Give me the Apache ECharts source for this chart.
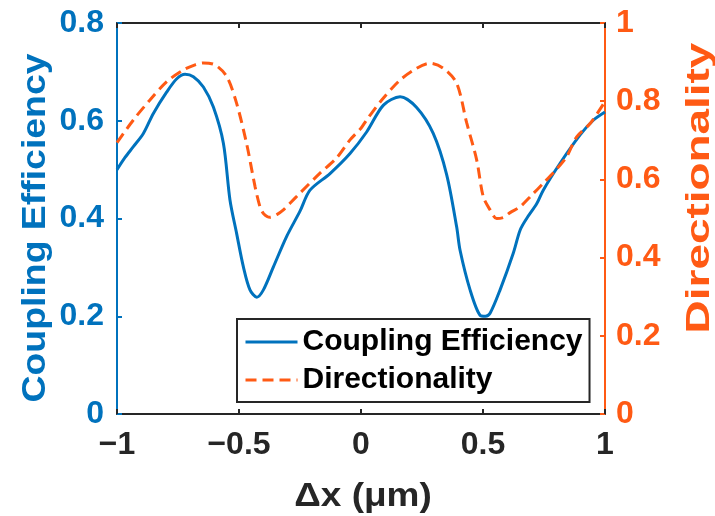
<!DOCTYPE html>
<html>
<head>
<meta charset="utf-8">
<script src="https://cdn.jsdelivr.net/npm/echarts@6/dist/echarts.min.js"></script>
<style>
  html, body { margin: 0; padding: 0; background: #fff; }
  #chart { width: 715px; height: 516px; }
</style>
</head>
<body>
<div id="chart"></div>
<script>
// Coupling efficiency vs. lateral offset
const ceX = [-1, -0.967, -0.933, -0.892, -0.851, -0.796, -0.755, -0.721, -0.687, -0.646,
  -0.605, -0.564, -0.537, -0.510, -0.482, -0.455, -0.427, -0.400, -0.359, -0.305,
  -0.250, -0.209, -0.127, -0.045, 0.023, 0.092, 0.160, 0.228, 0.296, 0.351,
  0.392, 0.406, 0.447, 0.488, 0.510, 0.529, 0.570, 0.624, 0.652, 0.679,
  0.720, 0.747, 0.816, 0.898, 0.952, 1.0];
const ceY = [0.500, 0.525, 0.547, 0.574, 0.615, 0.659, 0.686, 0.695, 0.690, 0.669,
  0.628, 0.554, 0.438, 0.370, 0.301, 0.254, 0.239, 0.254, 0.301, 0.363,
  0.415, 0.458, 0.492, 0.533, 0.577, 0.632, 0.649, 0.627, 0.574, 0.490,
  0.383, 0.335, 0.254, 0.202, 0.200, 0.206, 0.254, 0.329, 0.376, 0.400,
  0.430, 0.458, 0.513, 0.571, 0.601, 0.618];

// Directionality vs. lateral offset
const dirX = [-1, -0.933, -0.865, -0.796, -0.728, -0.680, -0.646, -0.598, -0.550, -0.510,
  -0.469, -0.434, -0.414, -0.400, -0.373, -0.345, -0.318, -0.291, -0.250, -0.168,
  -0.100, -0.045, 0, 0.023, 0.085, 0.160, 0.228, 0.283, 0.338, 0.392,
  0.433, 0.474, 0.501, 0.529, 0.556, 0.585, 0.611, 0.652, 0.700, 0.747,
  0.800, 0.843, 0.884, 0.939, 1.0];
const dirY = [0.694, 0.752, 0.803, 0.850, 0.880, 0.893, 0.898, 0.893, 0.863, 0.795,
  0.692, 0.581, 0.530, 0.513, 0.503, 0.510, 0.522, 0.539, 0.565, 0.616,
  0.655, 0.701, 0.731, 0.752, 0.803, 0.854, 0.884, 0.897, 0.884, 0.846,
  0.745, 0.650, 0.556, 0.522, 0.500, 0.503, 0.515, 0.530, 0.560, 0.590,
  0.625, 0.658, 0.709, 0.743, 0.799];

const xTicks = [-1, -0.5, 0, 0.5, 1];
const ceTicks = [0, 0.2, 0.4, 0.6, 0.8];
const dirTicks = [0, 0.2, 0.4, 0.6, 0.8, 1];

const seriesNames = ['Coupling Efficiency', 'Directionality'];
const xTitle = 'Δx (μm)';

const BLUE = '#0072BD';
const ORANGE = '#FF5A14';
const INK = '#262626';
const FONT = '"Liberation Sans", Arial, Helvetica, sans-serif';

const GRID = { left: 117, right: 110, top: 23, bottom: 102 };

const fmtX = v => (v < 0 ? '\u2212' + Math.abs(v) : String(v));

const chart = echarts.init(document.getElementById('chart'), null, { renderer: 'canvas' });

chart.setOption({
  animation: false,
  backgroundColor: '#fff',
  grid: GRID,
  legend: {
    orient: 'vertical',
    left: 237,
    top: 319,
    padding: [8, 7, 7, 7],
    itemGap: 8,
    itemWidth: 52,
    itemHeight: 14,
    backgroundColor: '#fff',
    borderColor: INK,
    borderWidth: 2,
    borderRadius: 0,
    data: seriesNames,
    itemStyle: { opacity: 0, borderWidth: 0 },
    lineStyle: { width: 3 },
    textStyle: { fontFamily: FONT, fontWeight: 'bold', fontSize: 30, color: '#000' }
  },
  xAxis: [{
    type: 'value',
    min: xTicks[0], max: xTicks[xTicks.length - 1], interval: 0.5,
    position: 'bottom',
    axisLine: { show: true, onZero: false, lineStyle: { color: INK, width: 2 } },
    axisTick: { inside: true, length: 5, lineStyle: { color: INK, width: 2 } },
    axisLabel: { formatter: fmtX, fontFamily: FONT, fontWeight: 'bold', fontSize: 32, color: INK, margin: 15 },
    splitLine: { show: false }
  }, {
    type: 'value',
    min: xTicks[0], max: xTicks[xTicks.length - 1], interval: 0.5,
    position: 'top',
    axisLine: { show: true, onZero: false, lineStyle: { color: INK, width: 2 } },
    axisTick: { inside: true, length: 5, lineStyle: { color: INK, width: 2 } },
    axisLabel: { show: false },
    splitLine: { show: false }
  }],
  yAxis: [{
    type: 'value',
    min: ceTicks[0], max: ceTicks[ceTicks.length - 1], interval: 0.2,
    position: 'left',
    axisLine: { show: true, onZero: false, lineStyle: { color: BLUE, width: 2 } },
    axisTick: { inside: true, length: 5, lineStyle: { color: BLUE, width: 2 } },
    axisLabel: { fontFamily: FONT, fontWeight: 'bold', fontSize: 32, color: BLUE, margin: 13 },
    splitLine: { show: false }
  }, {
    type: 'value',
    min: dirTicks[0], max: dirTicks[dirTicks.length - 1], interval: 0.2,
    position: 'right',
    axisLine: { show: true, onZero: false, lineStyle: { color: ORANGE, width: 2 } },
    axisTick: { inside: true, length: 5, lineStyle: { color: ORANGE, width: 2 } },
    axisLabel: { fontFamily: FONT, fontWeight: 'bold', fontSize: 32, color: ORANGE, margin: 11 },
    splitLine: { show: false }
  }],
  series: [{
    name: seriesNames[0],
    type: 'line',
    xAxisIndex: 0,
    yAxisIndex: 0,
    data: ceX.map((x, i) => [x, ceY[i]]),
    smooth: 0.3,
    showSymbol: false,
    symbol: 'none',
    lineStyle: { color: BLUE, width: 3 },
    itemStyle: { color: BLUE }
  }, {
    name: seriesNames[1],
    type: 'line',
    xAxisIndex: 0,
    yAxisIndex: 1,
    data: dirX.map((x, i) => [x, dirY[i]]),
    smooth: 0.3,
    showSymbol: false,
    symbol: 'none',
    lineStyle: { color: ORANGE, width: 3, type: [11, 6] },
    itemStyle: { color: ORANGE }
  }],
  graphic: [{
    type: 'text',
    x: 36, y: 228,
    rotation: Math.PI / 2,
    scaleX: 1.1,
    style: { text: seriesNames[0], fontFamily: FONT, fontWeight: 'bold', fontSize: 34, fill: BLUE, align: 'center', verticalAlign: 'middle' }
  }, {
    type: 'text',
    x: 700, y: 188,
    rotation: Math.PI / 2,
    scaleX: 1.35,
    style: { text: seriesNames[1], fontFamily: FONT, fontWeight: 'bold', fontSize: 34, fill: ORANGE, align: 'center', verticalAlign: 'middle' }
  }, {
    type: 'text',
    x: 363, y: 497,
    scaleX: 1.12,
    style: { text: xTitle, fontFamily: FONT, fontWeight: 'bold', fontSize: 33, fill: INK, align: 'center', verticalAlign: 'middle' }
  }]
});
</script>
</body>
</html>
